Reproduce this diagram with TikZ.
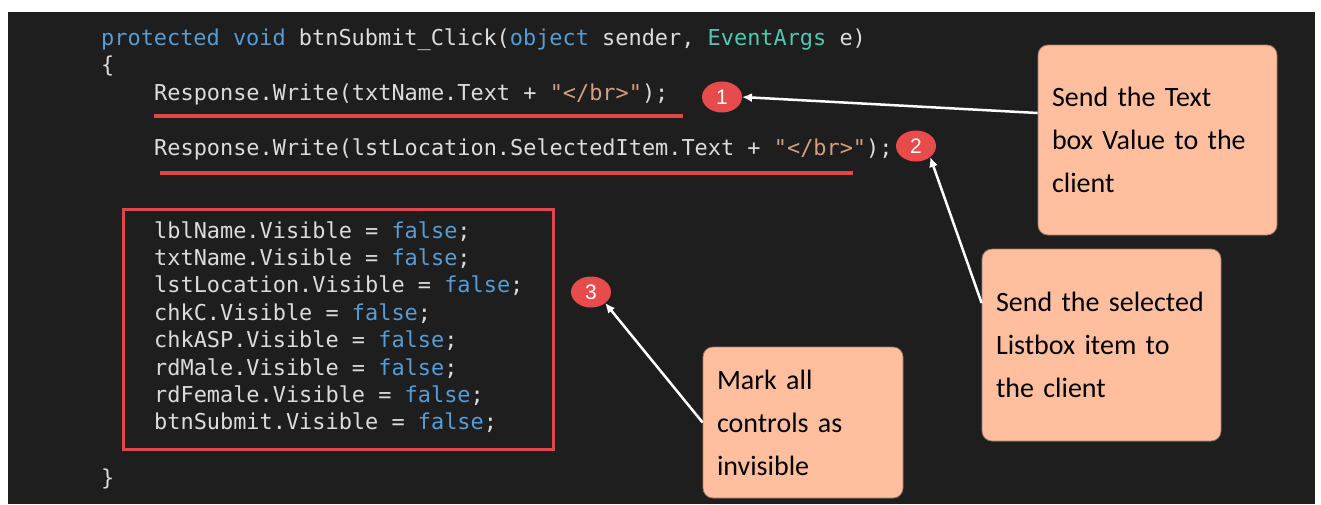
\documentclass[tikz,border=0pt]{standalone}
\usepackage{fontspec}
\setmonofont{DejaVu Sans Mono}
\newfontfamily\notefont{Carlito}
\newfontfamily\badgefont{Liberation Sans}
\usetikzlibrary{shapes.geometric,arrows.meta}

\definecolor{editorbg}{HTML}{1E1E1E}
\definecolor{plaintxt}{HTML}{DCDCDC}
\definecolor{kwblue}{HTML}{569CD6}
\definecolor{typeteal}{HTML}{4EC9B0}
\definecolor{strorange}{HTML}{D69D85}
\definecolor{markred}{HTML}{E04848}
\definecolor{badgered}{HTML}{E84B4B}
\definecolor{notefill}{HTML}{FFBF9F}
\definecolor{noteedge}{HTML}{9C7A66}

\newcommand{\kw}[1]{\textcolor{kwblue}{#1}}
\newcommand{\ty}[1]{\textcolor{typeteal}{#1}}
\newcommand{\str}[1]{\textcolor{strorange}{#1}}

\tikzset{
  codeline/.style={anchor=base west, inner sep=0pt, text=plaintxt,
    font=\ttfamily\fontsize{21.9}{27}\selectfont},
  badge/.style={ellipse, fill=badgered, minimum width=40pt, minimum height=31pt,
    inner sep=0pt, outer sep=0pt, text=white, font=\badgefont\fontsize{21}{21}\selectfont},
  note/.style={rectangle, rounded corners=10pt, fill=notefill, draw=noteedge,
    line width=0.8pt, inner xsep=14pt, inner ysep=0pt, align=left,
    font=\notefont\fontsize{28}{43}\selectfont, text=black},
  underline/.style={draw=markred, line width=4.5pt},
  markbox/.style={draw=markred, line width=3pt},
  pointer/.style={draw=white, line width=2.5pt,
    -{Latex[length=10pt,width=9pt]}},
}

\begin{document}
\begin{tikzpicture}[x=1pt,y=-1pt]
  % page and editor background
  \useasboundingbox (0,0) rectangle (1321,504);
  \fill[white] (0,0) rectangle (1321,504);
  \fill[editorbg] (8,12) rectangle (1315,504);

  % source code
  \node[codeline] (sig) at (101,45) {\kw{protected} \kw{void} btnSubmit\_Click(\kw{object} sender, \ty{EventArgs} e)};
  \node[codeline] (open) at (101,72.5) {\{};
  \node[codeline] (resp1) at (154,100) {Response.Write(txtName.Text + \str{"</br>"});};
  \node[codeline] (resp2) at (154,155) {Response.Write(lstLocation.SelectedItem.Text + \str{"</br>"});};
  \node[codeline] (v1) at (154,238) {lblName.Visible = \kw{false};};
  \node[codeline] (v2) at (154,265.4) {txtName.Visible = \kw{false};};
  \node[codeline] (v3) at (154,292.8) {lstLocation.Visible = \kw{false};};
  \node[codeline] (v4) at (154,320.2) {chkC.Visible = \kw{false};};
  \node[codeline] (v5) at (154,347.6) {chkASP.Visible = \kw{false};};
  \node[codeline] (v6) at (154,375) {rdMale.Visible = \kw{false};};
  \node[codeline] (v7) at (154,402.4) {rdFemale.Visible = \kw{false};};
  \node[codeline] (v8) at (154,429.8) {btnSubmit.Visible = \kw{false};};
  \node[codeline] (close) at (101,485) {\}};

  % red highlights
  \draw[underline] (154,116) -- (683,116);
  \draw[underline] (160,173) -- (853,173);
  \draw[markbox] (123,209) rectangle (553,449);

  % numbered badges
  \node[badge] (c1) at (722,97) {1};
  \node[badge] (c2) at (916,146) {2};
  \node[badge] (c3) at (591,292) {3};

  % call-out notes
  \node[note, minimum width=239pt, minimum height=190pt, text width=211pt]
    (note1) at (1157.5,140) {Send the Text\\box Value to the\\client};
  \node[note, minimum width=239pt, minimum height=192pt, text width=211pt]
    (note2) at (1101.5,345) {Send the selected\\Listbox item to\\the client};
  \node[note, minimum width=200pt, minimum height=151pt, text width=172pt]
    (note3) at (803,422.5) {Mark all\\controls as\\invisible};

  % pointers from notes to badges
  \draw[pointer] ([yshift=27pt]note1.west) -- (c1.east);
  \draw[pointer] ([yshift=42pt]note2.west) -- (c2.south east);
  \draw[pointer] (note3.west) -- (c3.south east);
\end{tikzpicture}
\end{document}
